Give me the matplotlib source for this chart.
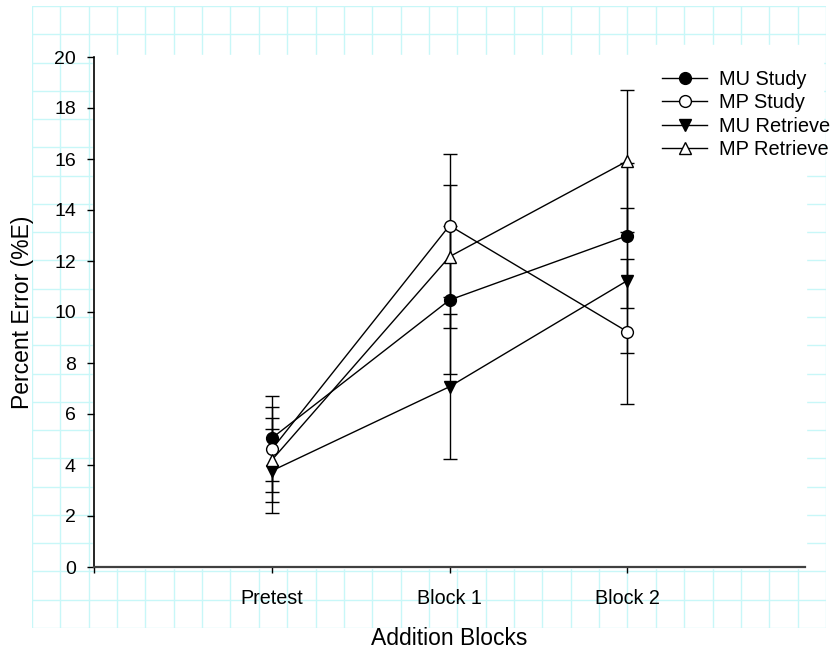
import matplotlib.pyplot as plt
import numpy as np
from matplotlib.patches import Rectangle

plt.rcParams['font.family'] = ['Liberation Sans', 'DejaVu Sans']

blocks = ['Pretest', 'Block 1', 'Block 2']
series = ['MU Study', 'MP Study', 'MU Retrieve', 'MP Retrieve']

mu_study = [5.05, 10.47, 12.99]
mu_study_err = [1.67, 2.9, 2.85]
mp_study = [4.61, 13.39, 9.23]
mp_study_err = [1.67, 2.81, 2.85]
mu_retrieve = [3.77, 7.07, 11.23]
mu_retrieve_err = [1.65, 2.85, 2.85]
mp_retrieve = [4.19, 12.17, 15.92]
mp_retrieve_err = [1.66, 2.8, 2.78]

W, H = 834, 650
fig = plt.figure(figsize=(W / 100, H / 100), dpi=100)

# graph-paper background
bg = fig.add_axes([32 / W, 1 - 628 / H, 794 / W, 622 / H], zorder=0)
bg.set_xlim(0, 28)
bg.set_ylim(0, 22)
for i in range(29):
    bg.axvline(i, color='#c8f7f8', lw=1)
for j in range(23):
    bg.axhline(j, color='#c8f7f8', lw=1)
bg.axis('off')

fig.patches.append(Rectangle((93 / W, 1 - 568 / H), 713 / W, 513 / H,
                             transform=fig.transFigure, color='white', zorder=0.5))
fig.patches.append(Rectangle((655 / W, 1 - 160 / H), 168 / W, 115 / H,
                             transform=fig.transFigure, color='white', zorder=0.5))

ax = fig.add_axes([94 / W, 1 - 567 / H, 711 / W, 510 / H], zorder=1)
ax.patch.set_alpha(0)

x = np.arange(1, len(blocks) + 1)
data = [mu_study, mp_study, mu_retrieve, mp_retrieve]
errs = [mu_study_err, mp_study_err, mu_retrieve_err, mp_retrieve_err]
markers = ['o', 'o', 'v', '^']
faces = ['black', 'white', 'black', 'white']

for vals, err, m, fc, lab in zip(data, errs, markers, faces, series):
    ax.errorbar(x, vals, yerr=err, fmt='none', ecolor='black', elinewidth=1,
                capsize=5, capthick=1, zorder=2)
    ax.plot(x, vals, color='black', lw=1, marker=m, markersize=8.5,
            markerfacecolor=fc, markeredgecolor='black', markeredgewidth=1,
            label=lab, zorder=3)

ax.set_xlim(0, 4)
ax.set_ylim(0, 20)
ax.set_yticks(np.arange(0, 21, 2))
ax.set_xticks([0] + list(x))
ax.set_xticklabels([''] + blocks)
ax.spines['top'].set_visible(False)
ax.spines['right'].set_visible(False)
ax.spines['left'].set_linewidth(1.2)
ax.spines['bottom'].set_linewidth(1.6)
ax.spines['bottom'].set_color('#404040')
ax.tick_params(axis='y', direction='out', length=5, width=1, labelsize=14, pad=8)
ax.tick_params(axis='x', direction='out', length=4.5, width=1, labelsize=14.2, pad=11.5)

ax.set_xlabel('Addition Blocks', fontsize=16.5, va='baseline')
ax.xaxis.set_label_coords(0.5, (567 - 645) / 510)
ax.set_ylabel('Percent Error (%E)', fontsize=16.5, va='center')
ax.yaxis.set_label_coords(-0.0999, 0.5)

fig.legend(loc='upper left', bbox_to_anchor=(662 / W, 1 - 70 / H), frameon=False,
           fontsize=14.4, borderpad=0, borderaxespad=0, labelspacing=0.22,
           handlelength=2.25, handletextpad=0.6)

fig.savefig('out.png', dpi=100)
